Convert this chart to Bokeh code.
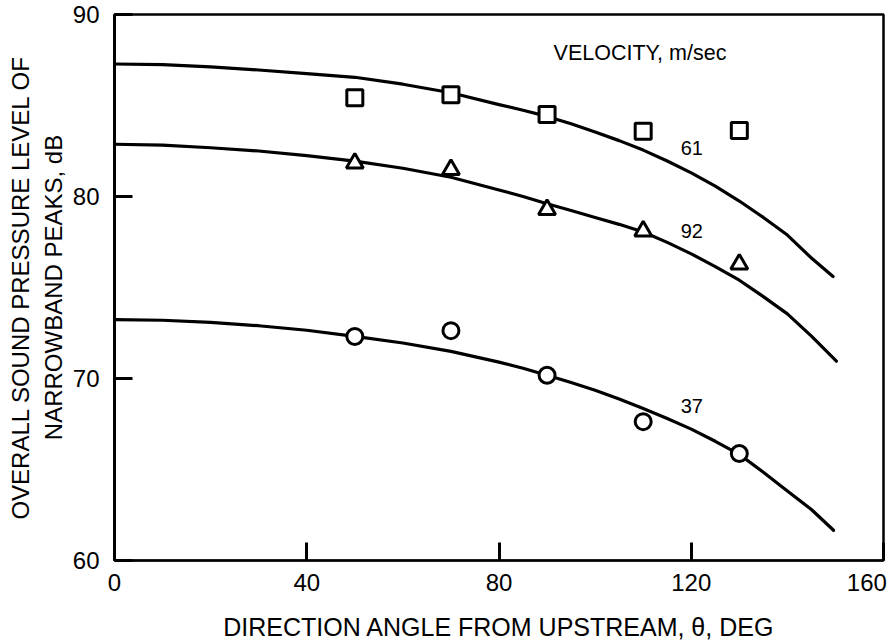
from bokeh.plotting import figure
from bokeh.models import Range1d, FixedTicker
from bokeh.core.properties import value
from bokeh.embed import file_html
from bokeh.resources import INLINE

# ---- data ----
angle_pts = [50, 70, 90, 110, 130]
spl_61 = [85.43, 85.59, 84.50, 83.58, 83.63]   # squares
spl_92 = [81.83, 81.48, 79.28, 78.10, 76.28]   # triangles
spl_37 = [72.31, 72.63, 70.18, 67.63, 65.88]   # circles

curve_x = [0, 10, 20, 30, 40, 50, 60, 70, 80, 85, 90, 95, 100, 105, 110, 115,
           120, 125, 130, 135, 140, 145]
curve_61_y = [87.28, 87.25, 87.12, 86.95, 86.75, 86.55, 86.17, 85.70, 85.05, 84.74,
              84.40, 84.00, 83.55, 83.07, 82.55, 81.95, 81.30, 80.57, 79.75, 78.85,
              77.88, 76.62]
curve_92_y = [82.87, 82.82, 82.68, 82.50, 82.25, 81.94, 81.55, 81.06, 80.36, 80.00,
              79.60, 79.23, 78.85, 78.47, 78.05, 77.48, 76.85, 76.15, 75.40, 74.50,
              73.55, 72.33]
curve_37_y = [73.23, 73.20, 73.08, 72.90, 72.65, 72.31, 71.95, 71.49, 70.90, 70.56,
              70.18, 69.78, 69.35, 68.87, 68.35, 67.80, 67.22, 66.55, 65.83, 64.85,
              63.82, 62.80]
curve_end_x = [149.5, 150.2, 149.6]
curve_end_y = [75.60, 70.95, 61.66]

x_ticks = [0, 40, 80, 120, 160]
y_ticks = [60, 70, 80, 90]

title_text = ["VELOCITY, m/sec"]
title_x = [91.35]
title_y = [87.9]
speed_labels = ["61", "92", "37"]
speed_label_x = [117.8, 117.8, 117.8]
speed_label_y = [82.69, 78.1, 68.49]

FONT = "Liberation Sans"

p = figure(width=893, height=644, output_backend="svg", toolbar_location=None,
           x_range=Range1d(0, 160), y_range=Range1d(60, 90),
           min_border_left=114, min_border_right=10, min_border_top=14, min_border_bottom=84)
p.background_fill_color = "white"
p.border_fill_color = "white"
p.outline_line_color = "black"
p.outline_line_width = 2.5
p.xgrid.visible = False
p.ygrid.visible = False

# axes
p.xaxis.ticker = FixedTicker(ticks=x_ticks)
p.yaxis.ticker = FixedTicker(ticks=y_ticks)
# nudge the last x label left so it stays inside the canvas, as in the reference
p.xaxis.major_label_overrides = {160: "160\u00a0"}
for ax in (p.xaxis[0], p.yaxis[0]):
    ax.axis_line_color = "black"
    ax.major_tick_in = 18
    ax.major_tick_out = 0
    ax.major_tick_line_width = 3
    ax.major_tick_line_color = "black"
    ax.minor_tick_line_color = None
    ax.major_label_text_font = FONT
    ax.major_label_text_font_size = "24px"
    ax.major_label_text_color = "black"
    ax.axis_label_text_font = FONT
    ax.axis_label_text_font_style = "normal"
    ax.axis_label_text_color = "black"
p.xaxis.axis_label_text_font_size = "25px"
p.yaxis.axis_label_text_font_size = "24px"
p.yaxis.axis_line_width = 3
p.xaxis.axis_line_width = 2
p.yaxis.major_label_standoff = 15
p.xaxis.major_label_standoff = 8
p.xaxis.axis_label = "DIRECTION ANGLE FROM UPSTREAM, \u03b8, DEG"
p.xaxis.axis_label_standoff = 14
p.yaxis.axis_label = "OVERALL SOUND PRESSURE LEVEL OF\nNARROWBAND PEAKS, dB"
p.yaxis.axis_label_standoff = 3

# curves
for cy, ex, ey in ((curve_61_y, curve_end_x[0], curve_end_y[0]),
                   (curve_92_y, curve_end_x[1], curve_end_y[1]),
                   (curve_37_y, curve_end_x[2], curve_end_y[2])):
    p.line(curve_x + [ex], cy + [ey], line_color="black", line_width=3.2,
           line_join="round", line_cap="round")

# data points
p.scatter(angle_pts, spl_61, marker="square", size=16, line_width=3,
          line_color="black", fill_color="white")
p.scatter(angle_pts, spl_92, marker="triangle", size=17, line_width=3,
          line_color="black", fill_color="white")
p.scatter(angle_pts, spl_37, marker="circle", size=16, line_width=3,
          line_color="black", fill_color="white")

# text annotations
p.text(x=title_x, y=title_y, text=title_text, text_font=value(FONT),
       text_font_size=value("21.5px"), text_align="left", text_baseline="middle",
       text_color="black")
p.text(x=speed_label_x, y=speed_label_y, text=speed_labels, text_font=value(FONT),
       text_font_size=value("20px"), text_align="left", text_baseline="middle",
       text_color="black")

open("out.html", "w").write(file_html(p, INLINE))
